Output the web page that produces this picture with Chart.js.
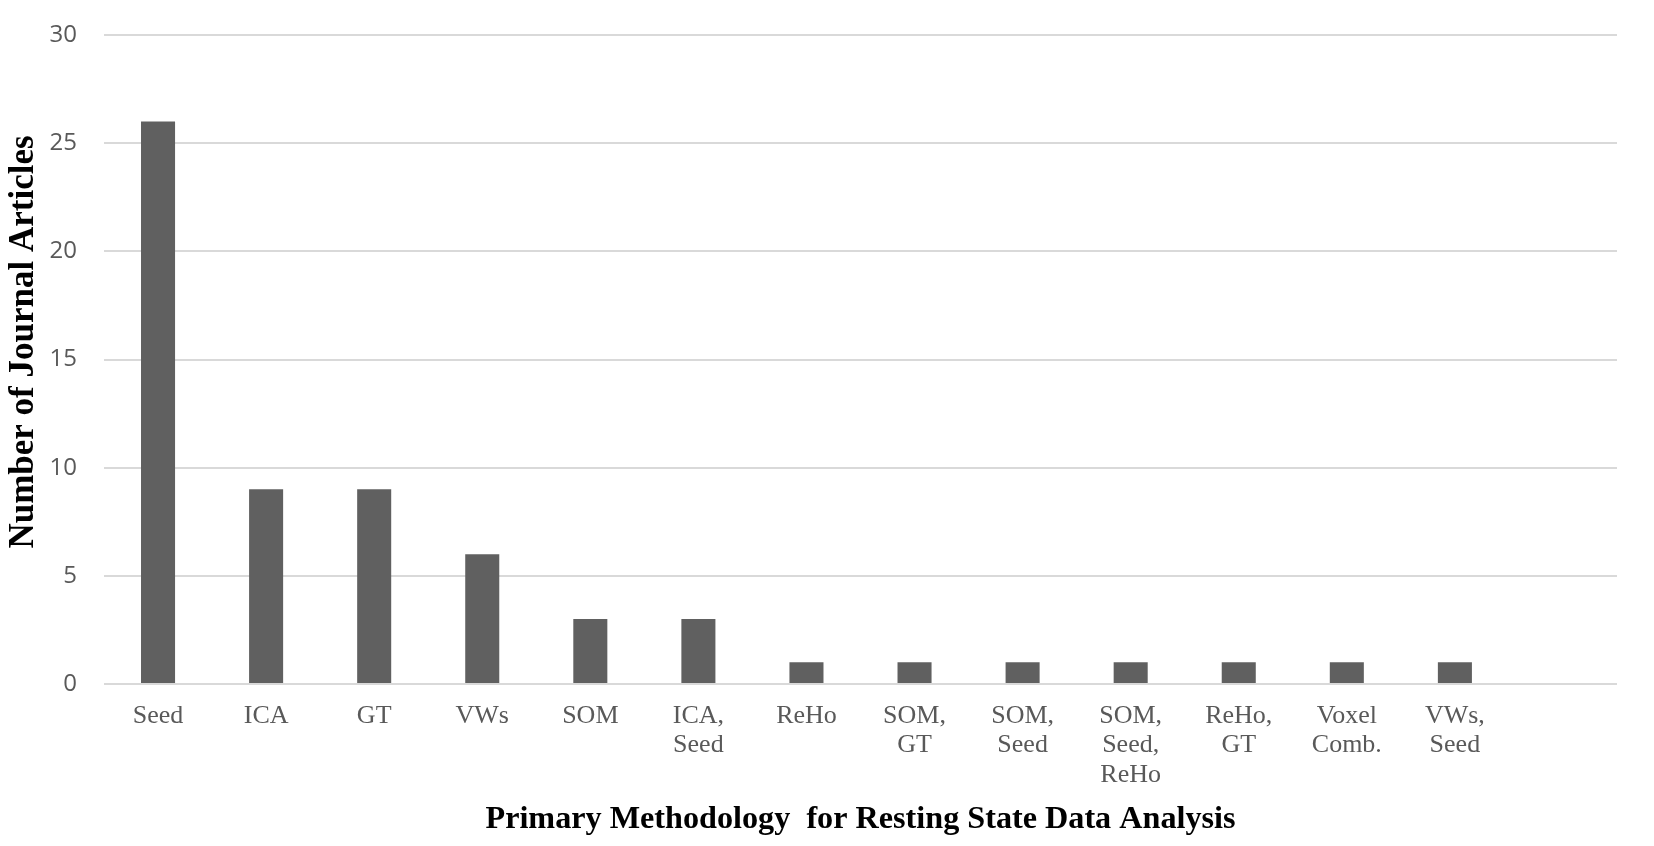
<!DOCTYPE html>
<html>
<head>
<meta charset="utf-8">
<script src="https://cdn.jsdelivr.net/npm/chart.js@4/dist/chart.umd.min.js"></script>
<style>
  html, body { margin: 0; padding: 0; background: #fff; }
  #wrap { width: 1654px; height: 846px; position: relative; }
</style>
</head>
<body>
<div id="wrap"><canvas id="chart"></canvas></div>
<script>
// Categories (last slot is empty in the original, leaving a gap at the right)
const methods = [
  'Seed', 'ICA', 'GT', 'VWs', 'SOM',
  ['ICA,', 'Seed'], 'ReHo', ['SOM,', 'GT'], ['SOM,', 'Seed'],
  ['SOM,', 'Seed,', 'ReHo'], ['ReHo,', 'GT'], ['Voxel', 'Comb.'], ['VWs,', 'Seed'],
  ''
];
const articleCounts = [26, 9, 9, 6, 3, 3, 1, 1, 1, 1, 1, 1, 1, null];
const yTicks = [0, 5, 10, 15, 20, 25, 30];

const xTitle = 'Primary Methodology  for Resting State Data Analysis';
const yTitle = 'Number of Journal Articles';

// y-axis title sits a little above the plot's middle in the original
const yTitlePlugin = {
  id: 'yTitle',
  afterDraw(chart) {
    const { ctx, chartArea, scales } = chart;
    ctx.save();
    ctx.translate(scales.y.left + 24, (chartArea.top + chartArea.bottom) / 2 - 17.5);
    ctx.rotate(-Math.PI / 2);
    ctx.font = 'bold 35px "Liberation Serif"';
    ctx.fillStyle = '#000';
    ctx.textAlign = 'center';
    ctx.textBaseline = 'middle';
    ctx.fillText(yTitle, 0, 0);
    ctx.restore();
  }
};

const ctx = document.getElementById('chart').getContext('2d');
new Chart(ctx, {
  type: 'bar',
  data: {
    labels: methods,
    datasets: [{
      data: articleCounts,
      backgroundColor: '#606060',
      borderWidth: 0,
      categoryPercentage: 1,
      barPercentage: 0.315
    }]
  },
  plugins: [yTitlePlugin],
  options: {
    responsive: true,
    maintainAspectRatio: false,
    animation: false,
    layout: { padding: { top: 35, right: 37, left: 0, bottom: 0 } },
    plugins: { legend: { display: false }, tooltip: { enabled: false } },
    scales: {
      x: {
        grid: { display: false },
        border: { display: false },
        ticks: {
          autoSkip: false,
          maxRotation: 0,
          minRotation: 0,
          padding: 9,
          color: '#595959',
          font: { family: 'Liberation Serif', size: 26, lineHeight: 1.14 }
        },
        title: {
          display: true,
          text: xTitle,
          color: '#000',
          padding: { top: 0, bottom: 7 },
          font: { family: 'Liberation Serif', size: 32.2, weight: 'bold', lineHeight: 1.2 }
        },
        afterFit: (scale) => { scale.height = 162; }
      },
      y: {
        min: 0,
        max: 30,
        afterBuildTicks: (scale) => { scale.ticks = yTicks.map(v => ({ value: v })); },
        grid: { color: '#d9d9d9', lineWidth: 2, drawTicks: false },
        border: { display: false },
        ticks: {
          padding: 27,
          color: '#595959',
          font: { family: 'Open Sans', size: 24, lineHeight: 0.6 }
        },
        afterFit: (scale) => { scale.width = 104; }
      }
    }
  }
});
</script>
</body>
</html>
